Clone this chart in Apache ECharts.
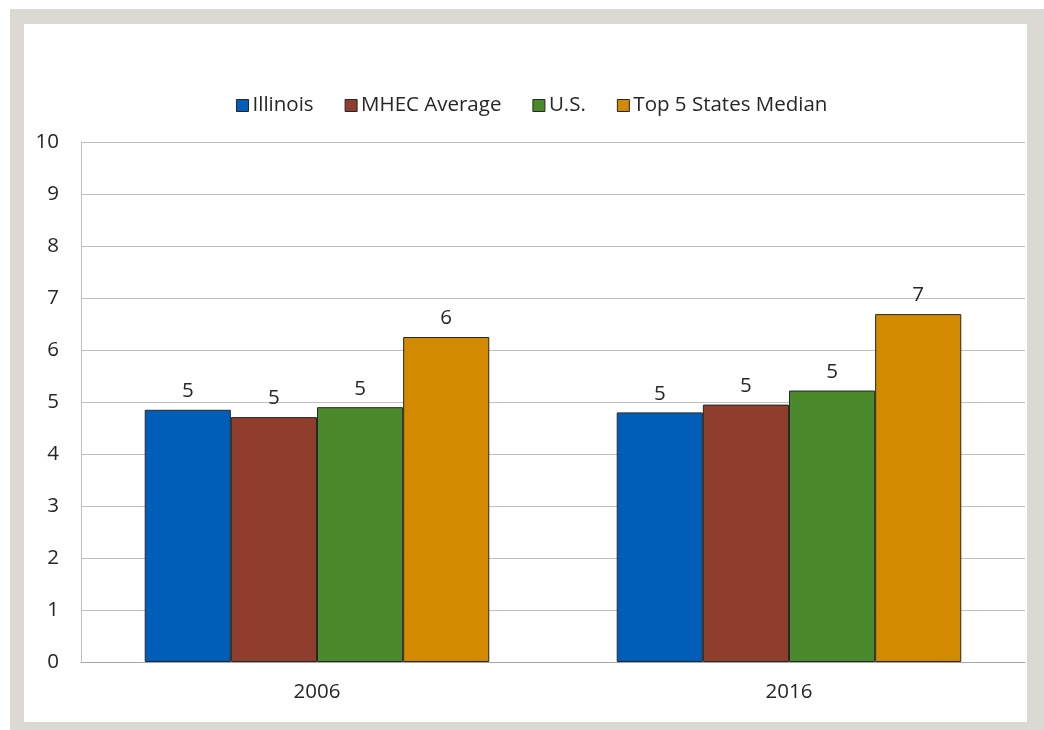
<!DOCTYPE html>
<html>
<head>
<meta charset="utf-8">
<script src="https://cdn.jsdelivr.net/npm/echarts@6/dist/echarts.min.js"></script>
<style>
  html, body { margin: 0; padding: 0; background: #ffffff; }
  #chart { width: 1044px; height: 730px; }
</style>
</head>
<body>
<div id="chart"></div>
<script>
// Years shown on the category axis
const years = ['2006', '2016'];

// Series values per year
const illinois = [4.85, 4.80];
const mhecAverage = [4.71, 4.95];
const us = [4.90, 5.22];
const top5Median = [6.25, 6.69];

// Value axis range
const yMin = 0;
const yMax = 10;
const yStep = 1;

const seriesDefs = [
  { name: 'Illinois', data: illinois, color: '#005EB8' },
  { name: 'MHEC Average', data: mhecAverage, color: '#8F3D2C' },
  { name: 'U.S.', data: us, color: '#4A8A2C' },
  { name: 'Top 5 States Median', data: top5Median, color: '#D28A00' }
];

const FONT = '"Open Sans", sans-serif';
const FS = 20.5;
const TEXT = '#262626';
const FRAME = '#DCD8D4';

const chart = echarts.init(document.getElementById('chart'), null, { renderer: 'canvas' });

chart.setOption({
  backgroundColor: '#ffffff',
  animation: false,
  textStyle: { fontFamily: FONT, color: TEXT },
  graphic: [
    // grey frame around the chart panel
    { type: 'rect', shape: { x: 10, y: 9, width: 1034, height: 15 }, style: { fill: FRAME }, silent: true },
    { type: 'rect', shape: { x: 10, y: 722, width: 1034, height: 8 }, style: { fill: FRAME }, silent: true },
    { type: 'rect', shape: { x: 10, y: 9, width: 14, height: 721 }, style: { fill: FRAME }, silent: true },
    { type: 'rect', shape: { x: 1027, y: 9, width: 17, height: 721 }, style: { fill: FRAME }, silent: true }
  ],
  legend: {
    top: 90,
    left: 231,
    itemWidth: 12,
    itemHeight: 12,
    itemGap: 31,
    icon: 'rect',
    textStyle: { fontFamily: FONT, fontSize: FS, color: TEXT, padding: [0, 0, 0, -1] },
    data: seriesDefs.map(s => ({ name: s.name, itemStyle: { borderColor: '#262626', borderWidth: 1 } }))
  },
  grid: { left: 81, right: 19, top: 142, bottom: 68, containLabel: false },
  xAxis: {
    type: 'category',
    data: years,
    axisLine: { show: true, lineStyle: { color: '#A6A6A6', width: 1 } },
    axisTick: { show: false },
    axisLabel: { fontFamily: FONT, fontSize: FS, color: TEXT, margin: 20 }
  },
  yAxis: {
    type: 'value',
    min: yMin,
    max: yMax,
    interval: yStep,
    axisLine: { show: true, lineStyle: { color: '#BFBFBF', width: 1 } },
    axisTick: { show: false },
    axisLabel: { fontFamily: FONT, fontSize: FS, color: TEXT, margin: 22 },
    splitLine: { show: true, lineStyle: { color: '#BFBFBF', width: 1 } }
  },
  series: seriesDefs.map(s => ({
    name: s.name,
    type: 'bar',
    data: s.data,
    barGap: '0%',
    barCategoryGap: '27%',
    itemStyle: { color: s.color, borderColor: '#262626', borderWidth: 1 },
    label: {
      show: true,
      position: 'top',
      distance: 8,
      fontFamily: FONT,
      fontSize: FS,
      color: TEXT,
      formatter: p => String(Math.round(p.value))
    }
  }))
});
</script>
</body>
</html>
